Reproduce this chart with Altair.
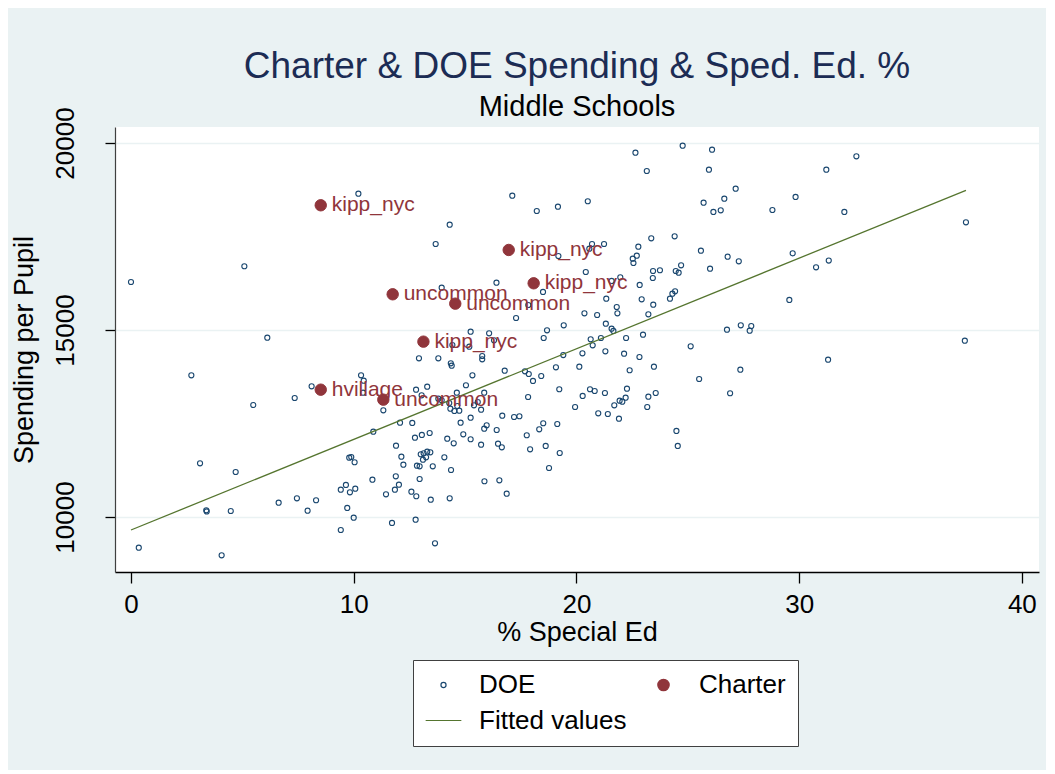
import altair as alt
import pandas as pd

# ---- data ----
doe_x = [0.00, 5.09, 6.12, 10.21, 17.12, 18.22, 19.17, 14.31, 13.68, 19.19,
         16.41, 13.95, 18.50, 17.84, 17.29, 19.43, 18.68, 15.25, 16.08, 18.53,
         16.30, 14.43, 15.19, 12.93, 13.80, 19.41, 20.27, 22.65, 24.77, 26.09,
         23.16, 25.95, 27.15, 20.51, 29.84, 25.71, 26.64, 26.15, 26.48, 28.80,
         23.36, 24.41, 20.70, 21.24, 20.58, 22.78, 22.53, 22.71, 22.56, 25.59,
         26.79, 27.29, 29.71, 20.42, 23.44, 23.75, 23.43, 24.46, 24.70, 24.59,
         26.00, 21.97, 21.58, 22.84, 21.34, 22.93, 24.20, 24.31, 24.43, 23.45,
         21.81, 21.84, 20.36, 20.93, 23.23, 29.56, 21.32, 21.58, 21.66, 20.64,
         21.10, 22.23, 22.99, 20.73, 26.76, 27.38, 27.85, 27.78, 21.30, 22.14,
         22.83, 25.13, 32.57, 31.22, 32.03, 37.49, 31.33, 30.76, 37.44, 31.30,
         2.71, 8.11, 7.35, 5.49, 3.10, 4.70, 3.38, 3.40, 4.48, 6.63,
         7.45, 8.31, 7.93, 9.42, 0.35, 4.07, 9.80, 9.65, 9.42, 9.83,
         9.71, 14.36, 14.40, 15.77, 15.77, 16.78, 17.69, 17.86, 18.05, 18.42,
         19.08, 19.23, 20.13, 10.33, 10.45, 10.42, 19.94, 17.77, 18.33, 18.51,
         19.14, 13.06, 13.41, 12.75, 14.92, 14.20, 15.25, 14.49, 11.90, 15.72,
         16.48, 16.65, 17.92, 18.62, 19.25, 18.77, 9.89, 10.04, 12.14, 12.23,
         13.01, 13.14, 13.30, 13.44, 13.25, 13.11, 12.84, 12.96, 13.55, 14.07,
         14.37, 12.96, 10.84, 11.89, 12.03, 11.85, 11.45, 12.59, 12.81, 13.46,
         14.31, 15.87, 16.54, 16.87, 10.07, 10.00, 11.72, 12.78, 13.65, 12.80,
         13.30, 13.05, 15.33, 15.04, 14.63, 15.86, 13.80, 13.95, 14.29, 14.34,
         14.52, 14.74, 14.65, 15.57, 15.40, 15.72, 15.25, 14.80, 11.33, 12.08,
         12.63, 16.67, 17.20, 17.44, 15.97, 15.86, 16.42, 17.83, 10.88, 22.39,
         23.48, 27.36, 25.51, 20.61, 20.82, 20.28, 21.28, 22.27, 22.21, 21.94,
         22.06, 21.70, 23.23, 23.56, 23.18, 26.90, 20.98, 21.41, 21.91, 24.49,
         24.55]
doe_y = [16284, 16704, 14795, 18645, 18592, 18182, 18298, 17816, 17300, 16979,
         16265, 16131, 16017, 15669, 15321, 15126, 14992, 14955, 14912, 14786,
         14725, 14599, 14554, 14243, 14243, 14330, 14377, 19741, 19929, 19822,
         19252, 19287, 18779, 18442, 18557, 18405, 18512, 18156, 18201, 18209,
         17452, 17506, 17300, 17300, 17175, 17228, 16907, 16987, 16792, 17121,
         16960, 16837, 17051, 16551, 16578, 16597, 16391, 16578, 16730, 16533,
         16640, 16409, 16311, 16204, 15837, 15821, 15837, 15971, 16035, 15677,
         15615, 15447, 15447, 15401, 15420, 15803, 15169, 15035, 14974, 14752,
         14786, 14786, 14875, 14591, 15008, 15126, 15107, 14982, 14431, 14367,
         14278, 14564, 19645, 19287, 18156, 17880, 16856, 16677, 14714, 14206,
         13789, 13495, 13182, 12995, 11436, 11203, 10179, 10150, 10160, 10382,
         10500, 10447, 10168, 9652, 9179, 8976, 11586, 10856, 10730, 10660,
         10241, 14110, 14046, 14305, 14217, 13912, 13896, 13824, 13637, 13770,
         14003, 13415, 14019, 13789, 13645, 13324, 12941, 12185, 12345, 12506,
         12487, 12193, 12246, 12121, 12211, 12094, 12078, 11971, 11907, 11934,
         11960, 11864, 11810, 11899, 11711, 11310, 11604, 11463, 11612, 11398,
         11677, 11703, 11746, 11730, 11596, 11532, 11372, 11356, 11356, 11596,
         11257, 11016, 10997, 11088, 10864, 10730, 10607, 10677, 10554, 10463,
         10500, 10955, 10981, 10623, 10757, 9981, 9840, 9928, 9297, 13404,
         13484, 13254, 13789, 13522, 13324, 13324, 13163, 13121, 13048, 12896,
         12834, 12843, 12968, 13075, 12987, 12869, 12655, 12522, 12853, 12522,
         12514, 12709, 12674, 12693, 12452, 12361, 12326, 13209, 12281, 13923,
         14019, 13939, 13690, 13415, 13369, 13236, 13316, 13431, 13190, 13110,
         13083, 12987, 13217, 13316, 12941, 13308, 12773, 12754, 12629, 12300,
         11899]

charter_x = [8.52, 16.96, 18.08, 11.75, 14.56, 13.13, 8.52, 11.33]
charter_y = [18335, 17140, 16249, 15955, 15704, 14688, 13404, 13137]
charter_name = ["kipp_nyc", "kipp_nyc", "kipp_nyc", "uncommon", "uncommon",
                "kipp_nyc", "hvillage", "uncommon"]

fit_x = [0.0, 37.49]
fit_y = [9652, 18736]

series_names = ["DOE", "Charter", "Fitted values"]
x_ticks = [0, 10, 20, 30, 40]
y_ticks = [10000, 15000, 20000]

FONT = "Liberation Sans"
NAVY = "#1a476f"
MAROON = "#90353b"
GREEN = "#55752f"
BG = "#eaf2f3"

doe = pd.DataFrame({"x": doe_x, "y": doe_y, "series": "DOE"})
charter = pd.DataFrame({"x": charter_x, "y": charter_y, "name": charter_name,
                        "series": "Charter"})
fit = pd.DataFrame({"x": fit_x, "y": fit_y, "series": "Fitted values"})

xs = alt.Scale(domain=[-0.718, 40.77], nice=False, zero=False)
ys = alt.Scale(domain=[8529, 20428], nice=False, zero=False)

# The size channel uses an evenly stepped point scale, so unused spacer slots
# sit between "Charter" and "Fitted values": DOE -> 26, Charter -> 130 and the
# legend key of the fitted line -> 1274.  All legend channels share the same
# domain so that Vega-Lite merges them into a single legend.
spacers = [f"_{i}" for i in range(2, 12)]
legend_domain = ["DOE", "Charter"] + spacers + ["Fitted values"]
n_sp = len(spacers)

stroke_scale = alt.Scale(domain=legend_domain,
                         range=[NAVY, MAROON] + ["white"] * n_sp + [GREEN])
fill_scale = alt.Scale(domain=legend_domain,
                       range=["transparent", MAROON] + ["transparent"] * n_sp + ["transparent"])
shape_scale = alt.Scale(domain=legend_domain,
                        range=["circle", "circle"] + ["circle"] * n_sp + ["stroke"])
size_scale = alt.Scale(type="point", domain=legend_domain, range=[26, 1274])

legend = alt.Legend(
    title=None, orient="none", legendX=298, legendY=533, direction="horizontal",
    columns=2, columnPadding=18, rowPadding=4, padding=12, values=series_names,
    fillColor="white", strokeColor="#404040", labelFont=FONT, labelFontSize=26,
    labelColor="black", labelOffset=17, labelLimit=400, symbolStrokeWidth=1.2,
)

x_enc = alt.X("x:Q", scale=xs, title="% Special Ed",
              axis=alt.Axis(values=x_ticks, grid=False, domainColor="black",
                            domainWidth=1.3, tickColor="black", tickWidth=1.3,
                            tickSize=11, labelFontSize=26, labelPadding=8,
                            labelFont=FONT, labelColor="black", titleFont=FONT,
                            titleFontSize=27, titleFontWeight="normal",
                            titleColor="black", titlePadding=2))
y_enc = alt.Y("y:Q", scale=ys, title="Spending per Pupil",
              axis=alt.Axis(values=y_ticks, format="d", grid=True, gridColor=BG,
                            gridWidth=1.5, domainColor="#404040", domainWidth=1.2,
                            tickColor="black", tickWidth=1.3, tickSize=10,
                            labelAngle=270, labelAlign="center",
                            labelBaseline="bottom", labelPadding=27,
                            labelFontSize=26, labelFont=FONT, labelColor="black",
                            titleFont=FONT, titleFontSize=27,
                            titleFontWeight="normal", titleColor="black",
                            titlePadding=14))

doe_layer = alt.Chart(doe).mark_point(opacity=1, strokeWidth=1.1).encode(
    x=x_enc, y=y_enc,
    stroke=alt.Stroke("series:N", scale=stroke_scale, legend=legend),
    fill=alt.Fill("series:N", scale=fill_scale, legend=legend),
    shape=alt.Shape("series:N", scale=shape_scale, legend=legend),
    size=alt.Size("series:N", scale=size_scale, legend=legend),
)

fit_layer = alt.Chart(fit).mark_line(strokeWidth=1.3).encode(
    x="x:Q", y="y:Q",
    stroke=alt.Stroke("series:N", scale=stroke_scale, legend=legend),
)

charter_layer = alt.Chart(charter).mark_point(opacity=1, strokeWidth=1).encode(
    x="x:Q", y="y:Q",
    stroke=alt.Stroke("series:N", scale=stroke_scale, legend=legend),
    fill=alt.Fill("series:N", scale=fill_scale, legend=legend),
    shape=alt.Shape("series:N", scale=shape_scale, legend=legend),
    size=alt.Size("series:N", scale=size_scale, legend=legend),
)

label_layer = alt.Chart(charter).mark_text(
    align="left", baseline="middle", dx=11, fontSize=21, font=FONT, color=MAROON
).encode(x="x:Q", y="y:Q", text="name:N")

chart = alt.layer(doe_layer, fit_layer, charter_layer, label_layer).properties(
    width=924, height=445,
    title=alt.Title(text="Charter & DOE Spending & Sped. Ed. %",
                    subtitle="Middle Schools", fontSize=37, subtitleFontSize=29,
                    font=FONT, subtitleFont=FONT, fontWeight="normal",
                    color="#1c2c54", subtitleColor="black", anchor="middle",
                    frame="group", offset=-16, subtitlePadding=7),
    autosize=alt.AutoSizeParams(type="none"),
    padding={"left": 107, "top": 119, "right": 7, "bottom": 198},
    background=BG,
).configure_view(fill="white", strokeWidth=0)

chart.save("out.html", embed_options={"renderer": "svg", "actions": False})
